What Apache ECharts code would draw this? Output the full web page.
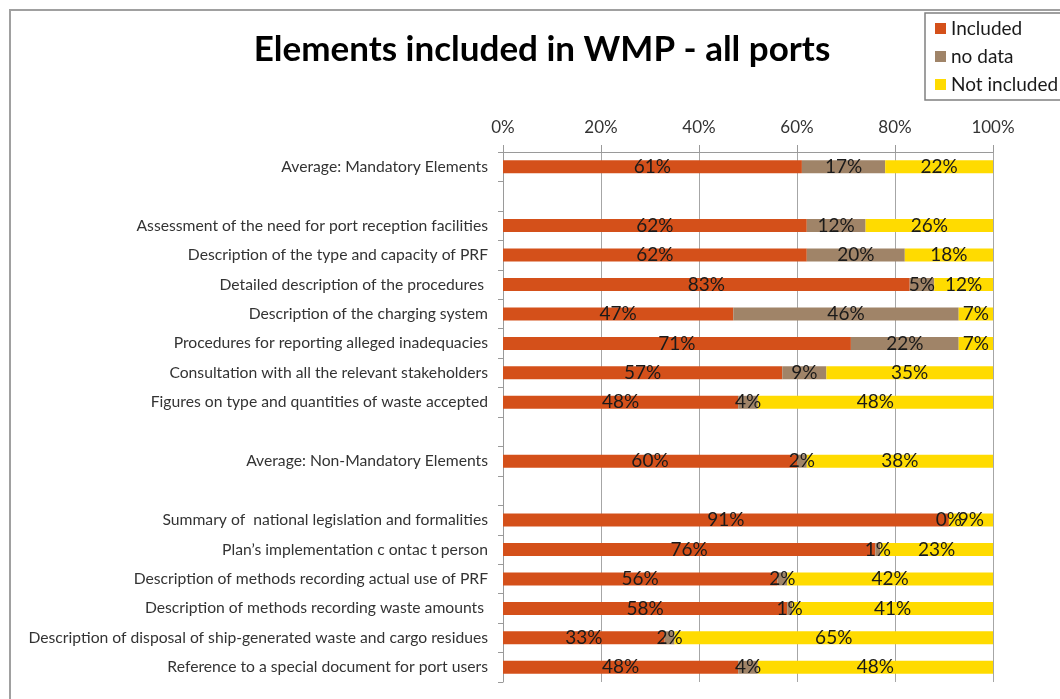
<!DOCTYPE html>
<html>
<head>
<meta charset="utf-8">
<title>Elements included in WMP - all ports</title>
<script src="https://cdn.jsdelivr.net/npm/echarts@6/dist/echarts.min.js"></script>
<style>
    html, body { margin: 0; padding: 0; background: #fff; }
    #chart { width: 1060px; height: 699px; }
</style>
</head>
<body>
<div id="chart"></div>
<script>
// categories top to bottom, blank rows are spacers
const categories = [
    'Average: Mandatory Elements',
    ' ',
    'Assessment of the need for port reception facilities',
    'Description of the type and capacity of PRF',
    'Detailed description of the procedures ',
    'Description of the charging system',
    'Procedures for reporting alleged inadequacies',
    'Consultation with all the relevant stakeholders',
    'Figures on type and quantities of waste accepted',
    '  ',
    'Average: Non-Mandatory Elements',
    '   ',
    'Summary of  national legislation and formalities',
    'Plan\u2019s implementation c ontac t person',
    'Description of methods recording actual use of PRF',
    'Description of methods recording waste amounts ',
    'Description of disposal of ship-generated waste and cargo residues',
    'Reference to a special document for port users'
]
const included = [61, '-', 62, 62, 83, 47, 71, 57, 48, '-', 60, '-', 91, 76, 56, 58, 33, 48]
const noData = [17, '-', 12, 20, 5, 46, 22, 9, 4, '-', 2, '-', 0, 1, 2, 1, 2, 4]
const notIncluded = [22, '-', 26, 18, 12, 7, 7, 35, 48, '-', 38, '-', 9, 23, 42, 41, 65, 48]
const xTicks = [0, 20, 40, 60, 80, 100]

const font = 'Lato, "Open Sans", sans-serif'
const chart = echarts.init(document.getElementById('chart'), null, { renderer: 'canvas' })

function makeSeries(name, data, color) {
    return {
        name: name,
        type: 'bar',
        stack: 'total',
        barWidth: 13,
        data: data,
        itemStyle: { color: color },
        label: {
            show: true,
            position: 'inside',
            formatter: '{c}%',
            color: '#1a1a1a',
            fontSize: 19,
            fontFamily: font
        },
        emphasis: { disabled: true },
        animation: false
    }
}

chart.setOption({
    animation: false,
    textStyle: { fontFamily: font },
    title: {
        text: 'Elements included in WMP - all ports',
        left: 537,
        top: 27,
        textAlign: 'center',
        textStyle: { fontSize: 35, fontWeight: 'bold', color: '#000', fontFamily: font }
    },
    graphic: [{
        type: 'rect',
        z: -10,
        silent: true,
        shape: { x: 10, y: 10, width: 1200, height: 1000 },
        style: { fill: 'none', stroke: '#a0a0a0', lineWidth: 2 }
    }],
    legend: {
        orient: 'vertical',
        left: 925,
        top: 13,
        padding: [6, 60, 6, 10],
        itemGap: 9,
        itemWidth: 11,
        itemHeight: 11,
        icon: 'rect',
        borderColor: '#808080',
        borderWidth: 1.5,
        backgroundColor: '#fff',
        textStyle: { fontSize: 19, color: '#1a1a1a', fontFamily: font },
        data: ['Included', 'no data', 'Not included']
    },
    grid: {
        left: 503,
        right: 67,
        top: 152,
        bottom: 17,
        containLabel: false
    },
    xAxis: {
        type: 'value',
        position: 'top',
        min: xTicks[0],
        max: xTicks[xTicks.length - 1],
        interval: xTicks[1] - xTicks[0],
        axisLine: { show: true, lineStyle: { color: '#9a9a9a', width: 1 } },
        axisTick: { show: true, length: 7, lineStyle: { color: '#9a9a9a' } },
        splitLine: { show: true, lineStyle: { color: '#a6a6a6', width: 1 } },
        axisLabel: {
            formatter: '{value}%',
            fontSize: 17,
            color: '#333',
            margin: 16,
            fontFamily: font
        }
    },
    yAxis: {
        type: 'category',
        inverse: true,
        data: categories,
        axisLine: { show: true, lineStyle: { color: '#9a9a9a', width: 1 } },
        axisTick: { show: true, length: 5, alignWithLabel: false, lineStyle: { color: '#9a9a9a' } },
        axisLabel: {
            interval: 0,
            fontSize: 15.7,
            color: '#333',
            margin: 15,
            fontFamily: font
        }
    },
    series: [
        makeSeries('Included', included, '#d4501a'),
        makeSeries('no data', noData, '#a08468'),
        makeSeries('Not included', notIncluded, '#ffdb00')
    ]
})
</script>
</body>
</html>
